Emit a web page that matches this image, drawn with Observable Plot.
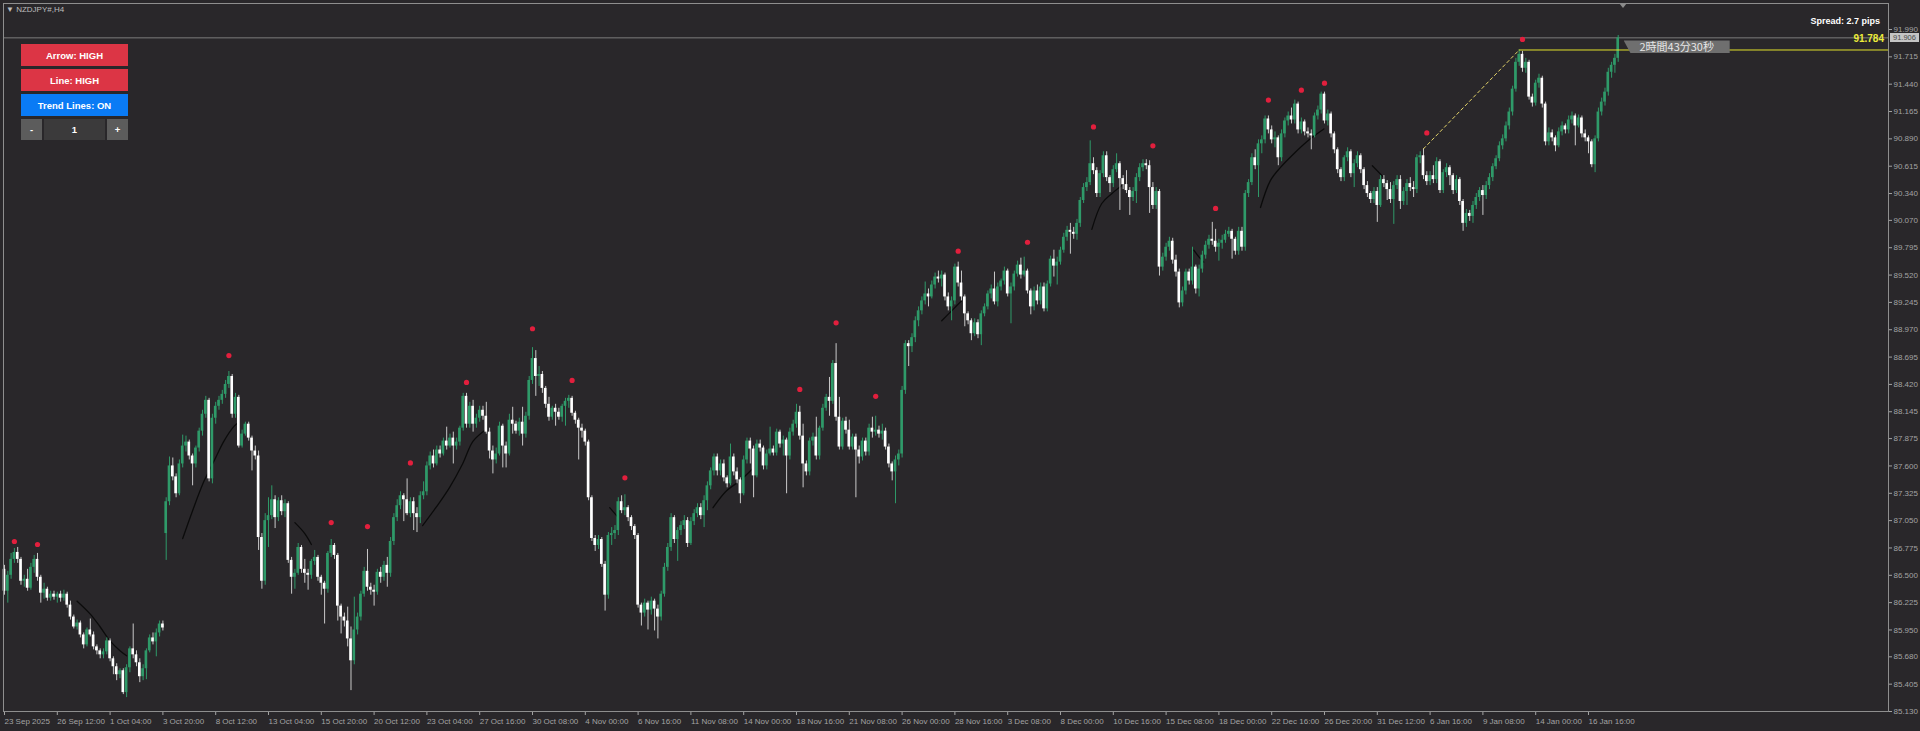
<!DOCTYPE html>
<html>
<head>
<meta charset="utf-8">
<script src="https://cdn.jsdelivr.net/npm/d3@7"></script>
<script src="https://cdn.jsdelivr.net/npm/@observablehq/plot@0.6"></script>
<style>
  html, body { margin: 0; padding: 0; background: #29272a; }
  #wrap { position: relative; width: 1920px; height: 731px; overflow: hidden; font-family: 'Liberation Sans', Arial, sans-serif; }
  .ov { position: absolute; box-sizing: border-box; white-space: nowrap; }
  .btn { color: #fff; font-weight: bold; font-size: 9.5px; display: flex; align-items: center; justify-content: center; }
</style>
</head>
<body>
<div id="wrap"></div>
<script>
// ---------------- DATA ----------------
const symbol = "NZDJPY#,H4";
const spreadText = "Spread: 2.7 pips";
const timerText = "2時間43分30秒";
const currentPrice = 91.906;
const lineLevel = 91.784;

const xLabels = ["23 Sep 2025","26 Sep 12:00","1 Oct 04:00","3 Oct 20:00","8 Oct 12:00","13 Oct 04:00","15 Oct 20:00","20 Oct 12:00","23 Oct 04:00","27 Oct 16:00","30 Oct 08:00","4 Nov 00:00","6 Nov 16:00","11 Nov 08:00","14 Nov 00:00","18 Nov 16:00","21 Nov 08:00","26 Nov 00:00","28 Nov 16:00","3 Dec 08:00","8 Dec 00:00","10 Dec 16:00","15 Dec 08:00","18 Dec 00:00","22 Dec 16:00","26 Dec 20:00","31 Dec 12:00","6 Jan 16:00","9 Jan 08:00","14 Jan 00:00","16 Jan 16:00"];
const barsPerLabel = 16;

const yTicks = [91.990,91.715,91.440,91.165,90.890,90.615,90.340,90.070,89.795,89.520,89.245,88.970,88.695,88.420,88.145,87.875,87.600,87.325,87.050,86.775,86.500,86.225,85.950,85.680,85.405,85.130];

const opens = [
86.56,86.34,86.50,86.66,86.73,86.66,86.44,86.46,86.37,86.58,
86.66,86.48,86.32,86.36,86.27,86.31,86.28,86.31,86.27,86.31,
86.20,86.08,85.98,86.02,85.90,85.80,85.95,85.90,85.78,85.74,
85.70,85.73,85.84,85.66,85.58,85.50,85.54,85.32,85.57,85.76,
85.70,85.62,85.48,85.56,85.74,85.87,85.83,85.92,86.01,86.92,
87.24,87.60,87.49,87.32,87.62,87.80,87.84,87.70,87.62,87.78,
87.95,88.12,88.26,87.47,88.08,88.20,88.26,88.32,88.42,88.50,
88.12,88.29,87.80,87.92,88.02,87.88,87.75,87.70,86.88,86.44,
87.05,87.10,87.26,87.08,87.25,87.14,87.22,86.65,86.48,86.52,
86.78,86.56,86.52,86.50,86.64,86.68,86.48,86.42,86.36,86.72,
86.80,86.70,86.19,86.08,86.04,85.86,85.64,85.95,86.08,86.31,
86.54,86.38,86.35,86.33,86.53,86.48,86.60,86.52,86.84,87.08,
87.20,87.30,87.26,87.12,87.24,87.12,87.08,87.30,87.34,87.60,
87.70,87.62,87.76,87.72,87.85,87.80,87.88,87.80,87.84,87.98,
88.30,88.02,88.20,88.02,88.08,88.16,88.10,87.94,87.75,87.66,
87.72,88.00,87.80,87.72,88.06,88.02,87.95,88.04,87.92,88.10,
88.46,88.68,88.50,88.52,88.38,88.22,88.09,88.18,88.14,88.09,
88.20,88.25,88.28,88.13,88.06,87.98,87.95,87.84,87.28,86.87,
86.80,86.86,86.61,86.30,86.90,86.92,86.95,87.24,87.15,87.18,
87.08,86.99,86.90,86.20,86.12,86.22,86.15,86.24,86.16,86.08,
86.31,86.58,86.78,87.08,86.86,86.95,87.00,87.05,86.82,87.04,
87.12,87.18,87.10,87.25,87.40,87.55,87.69,87.55,87.62,87.48,
87.42,87.69,87.54,87.46,87.32,87.66,87.85,87.77,87.50,87.82,
87.78,87.60,87.72,87.77,87.73,87.94,87.82,87.86,87.70,87.94,
88.02,88.14,87.90,87.62,87.54,87.85,87.89,87.70,87.98,88.18,
88.29,88.25,88.63,88.09,87.79,88.05,87.96,87.79,87.89,87.76,
87.69,87.85,87.74,87.98,87.94,87.96,87.92,87.95,87.79,87.62,
87.54,87.66,87.72,88.36,88.83,88.80,88.89,89.06,89.16,89.26,
89.33,89.30,89.42,89.50,89.48,89.52,89.30,89.20,89.26,89.60,
89.44,89.30,89.13,89.06,88.93,89.04,88.92,89.13,89.20,89.33,
89.38,89.25,89.40,89.46,89.56,89.33,89.40,89.53,89.62,89.52,
89.56,89.36,89.20,89.36,89.26,89.40,89.18,89.43,89.68,89.61,
89.65,89.77,89.90,89.97,89.95,89.93,90.04,90.27,90.40,90.45,
90.64,90.57,90.34,90.54,90.72,90.50,90.44,90.58,90.64,90.49,
90.43,90.37,90.30,90.36,90.50,90.60,90.64,90.62,90.40,90.22,
90.36,89.60,89.70,89.80,89.86,89.67,89.55,89.24,89.36,89.55,
89.46,89.60,89.38,89.58,89.72,89.82,89.88,89.86,89.80,89.84,
89.87,89.93,89.96,89.88,89.76,89.96,89.80,90.34,90.45,90.70,
90.62,90.84,90.88,91.09,90.98,90.88,90.90,90.70,90.94,91.07,
91.12,91.08,91.24,90.98,91.06,90.96,90.94,90.92,91.12,91.18,
91.34,91.07,91.14,90.94,90.78,90.58,90.50,90.70,90.76,90.54,
90.64,90.72,90.58,90.42,90.34,90.28,90.36,90.22,90.48,90.44,
90.38,90.28,90.42,90.48,90.26,90.36,90.44,90.40,90.38,90.70,
90.72,90.52,90.46,90.52,90.48,90.66,90.37,90.55,90.60,90.52,
90.37,90.48,90.26,90.04,90.14,90.11,90.22,90.30,90.37,90.32,
90.42,90.50,90.61,90.69,90.82,90.89,91.02,91.16,91.39,91.66,
91.74,91.60,91.66,91.31,91.25,91.45,91.50,91.24,90.86,90.95,
90.90,90.82,90.96,91.02,90.98,91.08,91.12,91.02,91.10,90.94,
90.90,90.86,90.63,90.89,91.16,91.26,91.36,91.56,91.63,91.70];

const highs = [
86.60,86.54,86.72,86.77,86.78,86.68,86.50,86.56,86.62,86.70,
86.72,86.50,86.42,86.38,86.34,86.34,86.33,86.34,86.35,86.33,
86.24,86.10,86.05,86.04,85.92,85.97,86.06,85.93,85.80,85.76,
85.76,85.87,85.86,85.68,85.61,85.56,85.56,85.60,85.78,86.01,
85.74,85.66,85.60,85.76,85.90,85.92,85.96,86.04,86.04,87.28,
87.69,87.68,87.52,87.66,87.91,87.90,87.86,87.72,87.80,87.98,
88.16,88.30,88.28,88.12,88.24,88.30,88.36,88.46,88.55,88.52,
88.33,88.31,87.96,88.04,88.04,87.90,87.80,87.75,86.92,87.12,
87.28,87.40,87.30,87.28,87.30,87.26,87.24,86.68,86.56,86.82,
86.80,86.66,86.56,86.66,86.75,86.70,86.50,86.44,86.74,86.86,
86.82,86.72,86.21,86.12,86.18,85.98,86.28,86.12,86.34,86.58,
86.76,86.42,86.40,86.56,86.58,86.64,86.68,86.88,87.12,87.26,
87.34,87.32,87.47,87.28,87.28,87.18,87.34,87.44,87.64,87.74,
87.76,87.80,87.80,87.88,87.99,87.92,87.94,87.88,88.00,88.33,
88.33,88.24,88.26,88.12,88.20,88.20,88.24,87.98,87.80,87.78,
88.04,88.02,87.84,88.12,88.19,88.05,88.08,88.19,88.14,88.50,
88.79,88.76,88.60,88.55,88.40,88.29,88.20,88.22,88.18,88.22,
88.28,88.31,88.30,88.15,88.08,88.02,87.97,87.86,87.30,86.90,
86.90,86.88,86.64,86.93,86.98,87.00,87.28,87.30,87.31,87.20,
87.10,87.01,86.92,86.22,86.26,86.24,86.28,86.26,86.20,86.34,
86.62,86.82,87.12,87.10,86.98,87.04,87.10,87.08,87.08,87.16,
87.22,87.22,87.30,87.44,87.58,87.72,87.72,87.66,87.66,87.50,
87.82,87.72,87.58,87.48,87.70,87.88,87.88,87.80,87.86,87.86,
87.80,87.76,87.99,87.80,87.97,87.96,87.90,87.88,87.98,88.06,
88.22,88.20,88.02,87.65,87.88,87.93,88.09,88.00,88.22,88.32,
88.49,88.66,88.83,88.29,88.08,88.09,88.06,87.92,87.92,87.80,
87.88,87.88,88.02,88.09,88.10,88.00,88.02,87.98,87.82,87.64,
87.70,87.76,88.40,88.86,88.86,88.93,89.10,89.20,89.30,89.45,
89.38,89.46,89.54,89.56,89.56,89.54,89.34,89.30,89.63,89.65,
89.56,89.32,89.15,89.08,89.08,89.07,89.16,89.23,89.36,89.42,
89.55,89.44,89.48,89.60,89.58,89.44,89.56,89.66,89.69,89.70,
89.58,89.38,89.40,89.42,89.44,89.44,89.46,89.71,89.77,89.70,
89.80,89.94,90.01,90.04,90.00,90.08,90.30,90.44,90.50,90.87,
90.70,90.60,90.57,90.76,90.76,90.52,90.62,90.74,90.66,90.52,
90.57,90.40,90.40,90.54,90.64,90.68,90.68,90.67,90.45,90.40,
90.38,89.74,89.84,89.90,89.89,89.72,89.58,89.40,89.58,89.58,
89.80,89.62,89.62,89.76,89.86,89.92,90.05,89.98,89.88,89.92,
89.97,90.00,89.98,89.90,90.00,90.00,90.37,90.48,90.74,90.78,
90.88,90.92,91.12,91.12,91.02,90.96,90.92,90.98,91.10,91.16,
91.20,91.28,91.26,91.10,91.08,91.00,90.98,91.15,91.22,91.36,
91.36,91.18,91.16,90.96,90.80,90.60,90.72,90.80,90.78,90.68,
90.76,90.74,90.60,90.46,90.36,90.40,90.40,90.52,90.52,90.47,
90.45,90.46,90.52,90.52,90.40,90.48,90.50,90.46,90.73,90.76,
90.79,90.56,90.56,90.62,90.70,90.68,90.58,90.64,90.62,90.54,
90.52,90.50,90.28,90.18,90.17,90.26,90.34,90.40,90.42,90.46,
90.54,90.64,90.72,90.86,90.93,91.06,91.20,91.42,91.70,91.784,
91.77,91.70,91.68,91.34,91.48,91.54,91.52,91.26,91.00,90.98,
90.92,91.00,91.06,91.04,91.12,91.16,91.14,91.13,91.12,90.98,
90.92,90.88,90.92,91.20,91.30,91.40,91.60,91.66,91.74,91.93];

const lows = [
86.30,86.22,86.46,86.62,86.62,86.40,86.38,86.34,86.35,86.52,
86.44,86.22,86.26,86.24,86.24,86.25,86.22,86.23,86.24,86.17,
86.05,85.96,85.95,85.87,85.76,85.78,85.88,85.75,85.70,85.66,
85.66,85.70,85.63,85.50,85.44,85.46,85.30,85.27,85.52,85.66,
85.58,85.42,85.44,85.45,85.72,85.80,85.68,85.88,85.94,86.65,
87.20,87.45,87.28,87.30,87.58,87.74,87.66,87.40,87.58,87.74,
87.90,88.08,87.44,87.42,88.02,88.16,88.22,88.28,88.38,88.08,
88.08,87.78,87.78,87.90,87.85,87.55,87.66,86.75,86.36,86.40,
86.78,87.06,86.97,87.04,87.10,87.08,86.62,86.31,86.36,86.50,
86.52,86.42,86.35,86.46,86.60,86.44,86.30,86.01,86.32,86.68,
86.66,86.04,85.91,85.98,85.78,85.34,85.60,85.90,86.04,86.28,
86.34,86.30,86.19,86.30,86.42,86.44,86.38,86.48,86.80,87.04,
87.16,87.04,87.10,87.08,86.95,86.93,87.02,87.26,87.30,87.56,
87.58,87.60,87.68,87.70,87.76,87.78,87.62,87.76,87.80,87.95,
87.98,87.98,87.94,87.98,88.04,88.06,87.92,87.67,87.52,87.62,
87.70,87.58,87.58,87.70,87.92,87.92,87.90,87.80,87.88,88.06,
88.42,88.30,88.40,88.33,88.18,88.05,88.06,88.00,88.06,88.04,
88.00,88.18,88.10,88.02,87.66,87.88,87.80,87.25,86.84,86.74,
86.76,86.58,86.14,86.26,86.80,86.86,86.90,87.12,87.10,87.04,
86.95,86.86,86.17,85.99,86.08,85.95,86.10,85.94,85.86,86.04,
86.28,86.54,86.74,86.82,86.64,86.90,86.96,86.78,86.80,87.00,
87.08,87.06,86.98,87.15,87.36,87.50,87.50,87.50,87.44,87.38,
87.40,87.50,87.42,87.22,87.30,87.62,87.62,87.28,87.48,87.74,
87.56,87.56,87.70,87.70,87.70,87.78,87.70,87.32,87.66,87.90,
87.98,87.86,87.38,87.50,87.50,87.80,87.66,87.66,87.95,88.15,
88.10,88.22,88.05,87.76,87.76,87.92,87.76,87.76,87.28,87.62,
87.65,87.70,87.70,87.88,87.90,87.88,87.86,87.76,87.58,87.45,
87.22,87.60,87.68,88.32,88.60,88.74,88.84,89.00,89.12,89.22,
89.20,89.28,89.38,89.44,89.40,89.26,89.16,89.06,89.22,89.40,
89.26,89.00,89.02,88.86,88.90,88.88,88.81,89.10,89.17,89.28,
89.22,89.20,89.36,89.42,89.30,89.03,89.36,89.50,89.48,89.50,
89.33,89.12,89.16,89.22,89.22,89.15,89.15,89.40,89.50,89.42,
89.62,89.74,89.86,89.73,89.88,89.87,90.00,90.24,90.36,90.42,
90.53,90.30,90.30,90.50,90.46,90.35,90.40,90.55,90.17,90.38,
90.34,90.12,90.26,90.24,90.46,90.56,90.58,90.14,90.18,90.18,
89.51,89.56,89.66,89.76,89.63,89.50,89.19,89.20,89.32,89.42,
89.42,89.33,89.30,89.54,89.68,89.78,89.82,89.75,89.66,89.78,
89.84,89.90,89.68,89.72,89.72,89.76,89.76,90.30,90.42,90.58,
90.30,90.74,90.84,90.94,90.84,90.80,90.62,90.66,90.90,91.02,
91.04,91.04,90.94,90.94,90.92,90.90,90.78,90.90,91.08,91.14,
91.04,91.02,90.90,90.74,90.54,90.46,90.46,90.66,90.50,90.40,
90.60,90.54,90.38,90.30,90.24,90.24,90.05,90.20,90.40,90.27,
90.24,90.03,90.38,90.18,90.22,90.22,90.36,90.30,90.34,90.64,
90.48,90.42,90.42,90.44,90.44,90.34,90.34,90.50,90.42,90.33,
90.34,90.22,89.96,90.00,90.06,90.04,90.18,90.26,90.12,90.28,
90.38,90.46,90.58,90.66,90.78,90.86,90.98,91.12,91.36,91.62,
91.56,91.55,91.28,91.21,91.22,91.40,91.20,90.82,90.82,90.86,
90.76,90.80,90.92,90.94,90.94,91.04,90.82,91.00,90.90,90.86,
90.74,90.60,90.55,90.86,91.12,91.22,91.32,91.50,91.55,91.66];

const closes = [
86.34,86.50,86.66,86.73,86.66,86.44,86.46,86.37,86.58,86.66,
86.48,86.32,86.36,86.27,86.31,86.28,86.31,86.27,86.31,86.20,
86.08,85.98,86.02,85.90,85.80,85.95,85.90,85.78,85.74,85.70,
85.73,85.84,85.66,85.58,85.50,85.54,85.32,85.57,85.76,85.70,
85.62,85.48,85.56,85.74,85.87,85.83,85.92,86.01,85.97,87.24,
87.60,87.49,87.32,87.62,87.80,87.84,87.70,87.62,87.78,87.95,
88.12,88.26,87.47,88.08,88.20,88.26,88.32,88.42,88.50,88.12,
88.29,87.80,87.92,88.02,87.88,87.75,87.70,86.88,86.44,87.05,
87.10,87.26,87.08,87.25,87.14,87.22,86.65,86.48,86.52,86.78,
86.56,86.52,86.50,86.64,86.68,86.48,86.42,86.36,86.72,86.80,
86.70,86.19,86.08,86.04,85.86,85.64,85.95,86.08,86.31,86.54,
86.38,86.35,86.33,86.53,86.48,86.60,86.52,86.84,87.08,87.20,
87.30,87.26,87.12,87.24,87.12,87.08,87.30,87.34,87.60,87.70,
87.62,87.76,87.72,87.85,87.80,87.88,87.80,87.84,87.98,88.30,
88.02,88.20,88.02,88.08,88.16,88.10,87.94,87.75,87.66,87.72,
88.00,87.80,87.72,88.06,88.02,87.95,88.04,87.92,88.10,88.46,
88.68,88.50,88.52,88.38,88.22,88.09,88.18,88.14,88.09,88.20,
88.25,88.28,88.13,88.06,87.98,87.95,87.84,87.28,86.87,86.80,
86.86,86.61,86.30,86.90,86.92,86.95,87.24,87.15,87.18,87.08,
86.99,86.90,86.20,86.12,86.22,86.15,86.24,86.16,86.08,86.31,
86.58,86.78,87.08,86.86,86.95,87.00,87.05,86.82,87.04,87.12,
87.18,87.10,87.25,87.40,87.55,87.69,87.55,87.62,87.48,87.42,
87.69,87.54,87.46,87.32,87.66,87.85,87.77,87.50,87.82,87.78,
87.60,87.72,87.77,87.73,87.94,87.82,87.86,87.70,87.94,88.02,
88.14,87.90,87.62,87.54,87.85,87.89,87.70,87.98,88.18,88.29,
88.25,88.63,88.09,87.79,88.05,87.96,87.79,87.89,87.76,87.69,
87.85,87.74,87.98,87.94,87.96,87.92,87.95,87.79,87.62,87.54,
87.66,87.72,88.36,88.83,88.80,88.89,89.06,89.16,89.26,89.33,
89.30,89.42,89.50,89.48,89.52,89.30,89.20,89.26,89.60,89.44,
89.30,89.13,89.06,88.93,89.04,88.92,89.13,89.20,89.33,89.38,
89.25,89.40,89.46,89.56,89.33,89.40,89.53,89.62,89.52,89.56,
89.36,89.20,89.36,89.26,89.40,89.18,89.43,89.68,89.61,89.65,
89.77,89.90,89.97,89.95,89.93,90.04,90.27,90.40,90.45,90.64,
90.57,90.34,90.54,90.72,90.50,90.44,90.58,90.64,90.49,90.43,
90.37,90.30,90.36,90.50,90.60,90.64,90.62,90.40,90.22,90.36,
89.60,89.70,89.80,89.86,89.67,89.55,89.24,89.36,89.55,89.46,
89.60,89.38,89.58,89.72,89.82,89.88,89.86,89.80,89.84,89.87,
89.93,89.96,89.88,89.76,89.96,89.80,90.34,90.45,90.70,90.62,
90.84,90.88,91.09,90.98,90.88,90.90,90.70,90.94,91.07,91.12,
91.08,91.24,90.98,91.06,90.96,90.94,90.92,91.12,91.18,91.34,
91.07,91.14,90.94,90.78,90.58,90.50,90.70,90.76,90.54,90.64,
90.72,90.58,90.42,90.34,90.28,90.36,90.22,90.48,90.44,90.38,
90.28,90.42,90.48,90.26,90.36,90.44,90.40,90.38,90.70,90.72,
90.52,90.46,90.52,90.48,90.66,90.37,90.55,90.60,90.52,90.37,
90.48,90.26,90.04,90.14,90.11,90.22,90.30,90.37,90.32,90.42,
90.50,90.61,90.69,90.82,90.89,91.02,91.16,91.39,91.66,91.74,
91.60,91.66,91.31,91.25,91.45,91.50,91.24,90.86,90.95,90.90,
90.82,90.96,91.02,90.98,91.08,91.12,91.02,91.10,90.94,90.90,
90.86,90.63,90.89,91.16,91.26,91.36,91.56,91.63,91.70,91.906];

// swing-high markers (bar index, price)
const dotBars   = [3,10,68,99,110,123,140,160,172,188,241,252,264,289,310,330,348,367,383,393,400,431,460];
const dotPrices = [86.84,86.81,88.71,87.03,86.99,87.63,88.44,88.98,88.46,87.48,88.37,89.04,88.30,89.76,89.85,91.01,90.82,90.19,91.28,91.38,91.45,90.95,91.89];

// black trend-line fragments [bar, price]
const trendA = [[22,86.24],[26,86.11],[29,85.98],[32,85.84],[35,85.74],[37,85.69]];
const trendB = [[54,86.87],[57,87.15],[60.5,87.45],[63.5,87.65],[66.5,87.85],[69.6,88.00],[71,88.04]];
const trendC = [[88,87.03],[91,86.92],[93,86.81]];
const trendD = [[126.7,87.00],[130.7,87.18],[134.8,87.38],[138.8,87.62],[142,87.85],[146,87.97]];
const trendE = [[183.4,87.18],[186,87.08]];
const trendF = [[214.7,87.18],[218.8,87.35],[222.8,87.45],[226.9,87.58]];
const trendG = [[284,89.06],[287,89.16],[290,89.26]];
const trendH = [[329.5,89.98],[332.5,90.24],[335.6,90.34],[338.6,90.42]];
const trendI = [[360.4,89.77],[362,89.70],[363.4,89.65]];
const trendJ = [[380.6,90.20],[383.6,90.47],[386.6,90.60],[390.7,90.74],[395.7,90.89],[399.8,90.99]];
const trendK = [[414.5,90.62],[418,90.50]];

// yellow high-to-high line
const yellowBars = [430, 459];
const yellowPrices = [90.79, 91.784];

// ---------------- BUILD ----------------
const n = closes.length;
const bars = d3.range(n).map(i => ({i, o: opens[i], h: highs[i], l: lows[i], c: closes[i]}));
const isUp = d => d.c >= d.o;
const GREEN = "#2f9a69";
const dots = dotBars.map((b, k) => ({x: b, y: dotPrices[k]}));
const trends = [trendA,trendB,trendC,trendD,trendE,trendF,trendG,trendH,trendI,trendJ,trendK]
  .flatMap((seg, id) => seg.map(([x, y]) => ({x, y, id})));
const yellow = yellowBars.map((b, k) => ({x: b, y: yellowPrices[k]}));
const xDomain = [-0.303, 570.91];
const xTicks = xLabels.map((_, k) => k * barsPerLabel);

const chart = Plot.plot({
  width: 1920,
  height: 731,
  marginLeft: 3,
  marginRight: 32,
  marginTop: 3,
  marginBottom: 20,
  style: {background: "#29272a", color: "#a3a3a3", fontFamily: "'Liberation Sans', Arial, sans-serif", fontSize: "8px"},
  x: {type: "linear", domain: xDomain},
  y: {type: "linear", domain: [85.130, 92.2516]},
  marks: [
    Plot.ruleY([currentPrice], {stroke: "#7c7c7c", strokeWidth: 1}),
    Plot.line(trends, {x: "x", y: "y", z: "id", stroke: "#0b0b0b", strokeWidth: 1.3, curve: "catmull-rom"}),
    Plot.ruleX(bars, {x: "i", y1: "l", y2: "h", stroke: d => isUp(d) ? GREEN : "#c9c9c9", strokeWidth: 1}),
    Plot.rect(bars, {x1: d => d.i - 0.4, x2: d => d.i + 0.4, y1: "o", y2: "c", fill: d => isUp(d) ? GREEN : "#ffffff"}),
    Plot.dot(dots, {x: "x", y: "y", r: 2.6, fill: "#e21f3d"}),
    Plot.line(yellow, {x: "x", y: "y", stroke: "#e6d66a", strokeWidth: 1, strokeDasharray: "3,3"}),
    Plot.ruleY([{y: lineLevel, x1: yellowBars[1], x2: xDomain[1]}], {y: "y", x1: "x1", x2: "x2", stroke: "#e2e22c", strokeWidth: 1}),
    Plot.axisY({anchor: "right", ticks: yTicks, tickFormat: d => d.toFixed(3), tickSize: 3, tickPadding: 2, fontSize: 8}),
    Plot.axisX({ticks: xTicks, tickFormat: d => xLabels[Math.round(d / barsPerLabel)], tickSize: 4, tickPadding: 3, textAnchor: "start", fontSize: 8}),
    Plot.frame({stroke: "#8e8e8e"})
  ]
});

const wrap = document.getElementById("wrap");
wrap.appendChild(chart);
const xs = chart.scale("x"), ys = chart.scale("y");

function ov(html, css, cls) {
  const d = document.createElement("div");
  d.className = "ov" + (cls ? " " + cls : "");
  d.innerHTML = html;
  Object.assign(d.style, css);
  wrap.appendChild(d);
  return d;
}

// header symbol
ov("&#9660;&nbsp;" + symbol, {left: "6px", top: "5px", fontSize: "8px", color: "#bdbdbd"});

// control buttons
ov("Arrow: HIGH", {left: "21px", top: "44px", width: "107px", height: "22px", background: "#dc3545"}, "btn");
ov("Line: HIGH", {left: "21px", top: "69px", width: "107px", height: "22px", background: "#dc3545"}, "btn");
ov("Trend Lines: ON", {left: "21px", top: "94px", width: "107px", height: "22px", background: "#0a7bf5"}, "btn");
ov("-", {left: "21px", top: "119px", width: "21px", height: "21px", background: "#5c5c5c"}, "btn");
ov("1", {left: "44px", top: "119px", width: "61px", height: "21px", background: "#3b3a3b"}, "btn");
ov("+", {left: "107px", top: "119px", width: "21px", height: "21px", background: "#5c5c5c"}, "btn");

// spread
ov(spreadText, {right: "40px", top: "16px", fontSize: "9px", fontWeight: "bold", color: "#ffffff"});

// level label
const yLvl = ys.apply(lineLevel);
ov(lineLevel.toFixed(3), {right: "36px", top: (yLvl - 16) + "px", fontSize: "10px", fontWeight: "bold", color: "#ecec3a"});

// current price box on axis
const yCur = ys.apply(currentPrice);
ov(currentPrice.toFixed(3), {left: "1890px", top: (yCur - 4.5) + "px", width: "29px", height: "9px", background: "#c4c4c4", color: "#4a4a4a", fontSize: "7.5px", lineHeight: "9px", textAlign: "center"});

// timer box
const xLast = xs.apply(n - 1);
ov(timerText, {left: (xLast + 6) + "px", top: (yLvl - 9) + "px", width: "106px", height: "13px", background: "#6f6f6f",
  clipPath: "polygon(0 0, 100% 0, 100% 100%, 7px 100%)", color: "#e6e6e6", fontSize: "11px", lineHeight: "13px",
  textAlign: "center", fontFamily: "'Noto Sans CJK JP', 'Liberation Sans', sans-serif"});

// small shift triangle at top
ov("", {left: (xLast + 1) + "px", top: "3px", width: "0", height: "0", borderLeft: "4px solid transparent", borderRight: "4px solid transparent", borderTop: "5px solid #8a8a8a"});
</script>
</body>
</html>
